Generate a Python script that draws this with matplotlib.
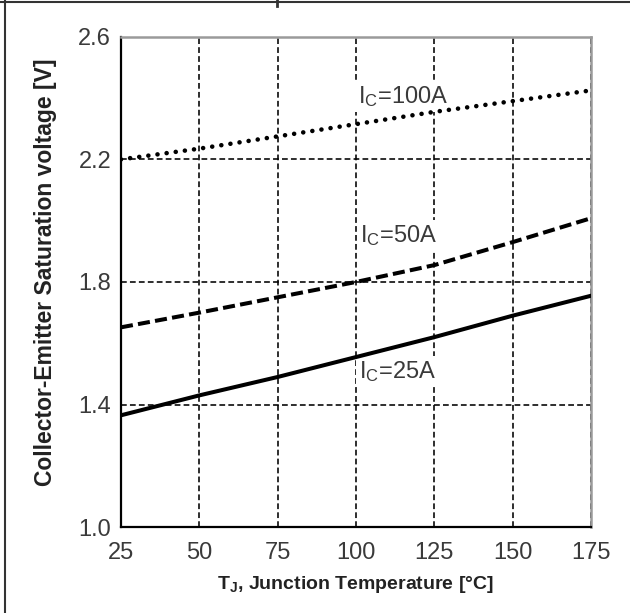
"""
IGBT Vce(sat) vs junction temperature
"""
import matplotlib
matplotlib.use('Agg')
import matplotlib.pyplot as plt
from matplotlib.lines import Line2D

plt.rcParams.update({
    'font.family': ['Liberation Sans', 'DejaVu Sans'],
    'mathtext.default': 'regular',
})

temps = [25, 50, 75, 100, 125, 150, 175]
vce_100a = [2.20, 2.235, 2.275, 2.315, 2.355, 2.39, 2.425]
vce_50a = [1.652, 1.70, 1.75, 1.80, 1.855, 1.93, 2.008]
vce_25a = [1.365, 1.43, 1.49, 1.555, 1.62, 1.69, 1.755]

xticks = [25, 50, 75, 100, 125, 150, 175]
yticks = [1.0, 1.4, 1.8, 2.2, 2.6]

TXT = '#3a3a3a'

fig = plt.figure(figsize=(6.30, 6.13), dpi=100)
ax = fig.add_axes([0.192, 0.140, 0.746, 0.800])

ax.plot(temps, vce_100a, color='black', lw=3.3, ls=(0, (0.01, 2.0)),
        dash_capstyle='round', zorder=3)
ax.plot(temps, vce_50a, color='black', lw=2.9, ls=(0, (3.0, 1.3)), zorder=3)
ax.plot(temps, vce_25a, color='black', lw=2.9, ls='-', zorder=3)

ax.set_xlim(25, 175)
ax.set_ylim(1.0, 2.6)
ax.set_xticks(xticks)
ax.set_yticks(yticks)
ax.set_yticklabels([f'{v:.1f}' for v in yticks])
ax.grid(True, color='black', lw=1.15, ls=(0, (3.6, 2.0)))
ax.tick_params(length=0, labelsize=17, colors=TXT, pad=7)
ax.tick_params(axis='x', pad=11)

for s in ['left', 'bottom']:
    ax.spines[s].set_color('black')
    ax.spines[s].set_linewidth(1.6)
for s in ['top', 'right']:
    ax.spines[s].set_color('#9a9a9a')
    ax.spines[s].set_linewidth(1.8)

box = dict(facecolor='white', edgecolor='none', pad=2)
ax.text(100.6, 2.404, r'I$_\mathregular{C}$=100A', fontsize=17, color=TXT,
        va='center', ha='left', bbox=box, zorder=2.5)
ax.text(101.3, 1.953, r'I$_\mathregular{C}$=50A', fontsize=17, color=TXT,
        va='center', ha='left', bbox=box, zorder=2.5)
ax.text(101.0, 1.509, r'I$_\mathregular{C}$=25A', fontsize=17, color=TXT,
        va='center', ha='left', bbox=box, zorder=2.5)

ax.set_ylabel('Collector-Emitter Saturation voltage [V]', fontsize=16.5,
              fontweight='bold', color='#222222')
ax.yaxis.set_label_coords(-0.136, 0.52)
ax.set_xlabel(r'T$_\mathregular{J}$, Junction Temperature [°C]', fontsize=14,
              fontweight='bold', color='#222222', labelpad=7)

# screenshot frame (top and left edges)
fig.add_artist(Line2D([0, 1], [0.997, 0.997], transform=fig.transFigure,
                      color='#333333', lw=1.5))
fig.add_artist(Line2D([0.008, 0.008], [0, 1], transform=fig.transFigure,
                      color='#333333', lw=1.5))
fig.add_artist(Line2D([0.44, 0.44], [0.99, 1], transform=fig.transFigure,
                      color='#333333', lw=2))

fig.savefig('out.png', dpi=100)
